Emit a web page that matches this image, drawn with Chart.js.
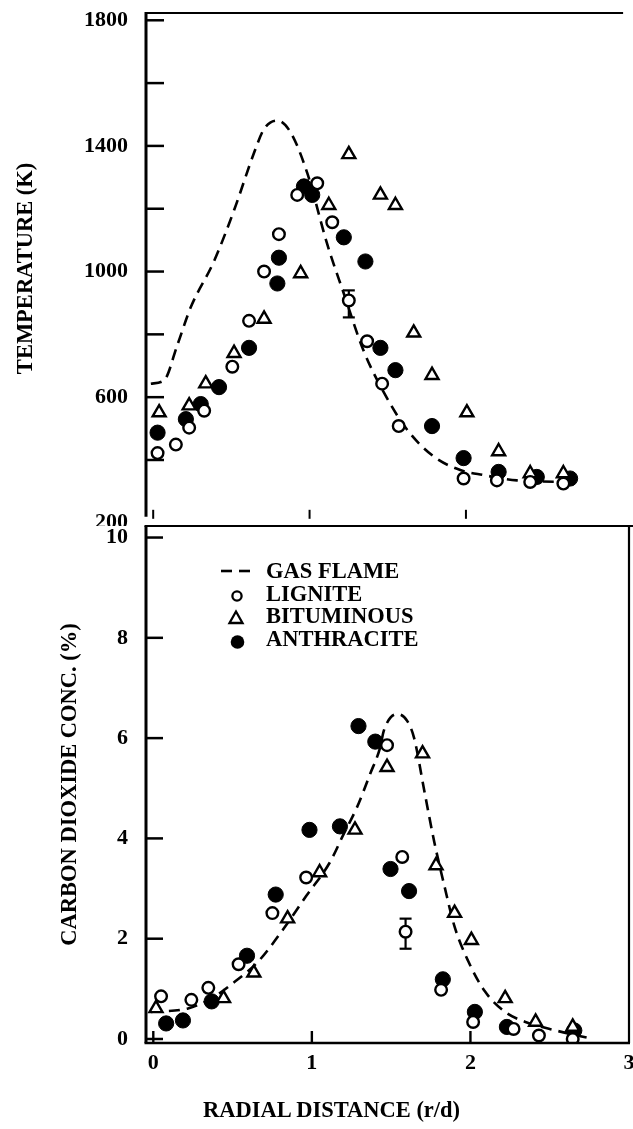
<!DOCTYPE html>
<html>
<head>
<meta charset="utf-8">
<script src="https://cdn.jsdelivr.net/npm/chart.js@4.4.1/dist/chart.umd.min.js"></script>
<style>
  body { margin: 0; background: #fff; }
  #page { position: relative; width: 633px; height: 1129px; overflow: hidden; background: #fff; }
  #topWrap { position: absolute; left: 0; top: 0; width: 633px; height: 526px; overflow: hidden; }
  canvas { position: absolute; left: 0; top: 0; }
  #co2Chart { top: 500px; }
  .lbl { position: absolute; font: bold 22.5px 'Liberation Serif', 'DejaVu Serif', serif; color: #000; white-space: nowrap; line-height: 1; }
  #legend { position: absolute; left: 218px; top: 560px; }
  .row { display: flex; align-items: center; height: 22.7px; }
  .row svg { width: 48px; height: 22px; flex: none; }
  .row span { font: bold 22.5px 'Liberation Serif', 'DejaVu Serif', serif; line-height: 22.7px; }
</style>
</head>
<body>
<div id="page">
  <div id="topWrap"><canvas id="tempChart" width="633" height="536"></canvas></div>
  <canvas id="co2Chart" width="645" height="629"></canvas>
  <div id="legend"></div>
  <div class="lbl" style="left:203px;top:1099px">RADIAL DISTANCE (r/d)</div>
</div>
<script>
// ---- top panel: temperature (K) vs r/d
const gasTempR = [-0.015, 0.07, 0.155, 0.24, 0.389, 0.517, 0.645, 0.709, 0.794, 0.879, 0.985, 1.113, 1.219, 1.347, 1.474, 1.623, 1.794, 1.964, 2.113, 2.326, 2.687];
const gasTemp  = [643, 654, 767, 886, 1033, 1195, 1378, 1454, 1481, 1443, 1314, 1087, 930, 746, 616, 497, 411, 368, 352, 335, 330];

const ligTempR = [0.028, 0.145, 0.23, 0.326, 0.506, 0.613, 0.709, 0.804, 0.921, 1.049, 1.145, 1.251, 1.368, 1.464, 1.57, 1.985, 2.198, 2.411, 2.623];
const ligTemp  = [422, 449, 503, 557, 697, 843, 1000, 1119, 1244, 1281, 1157, 908, 778, 643, 508, 341, 335, 330, 325];

const bitTempR = [0.038, 0.23, 0.336, 0.517, 0.709, 0.943, 1.123, 1.251, 1.453, 1.549, 1.666, 1.783, 2.006, 2.209, 2.411, 2.623];
const bitTemp  = [551, 573, 643, 740, 849, 994, 1211, 1373, 1244, 1211, 805, 670, 551, 427, 357, 357];

const antTempR = [0.028, 0.209, 0.304, 0.421, 0.613, 0.794, 0.804, 0.964, 1.017, 1.219, 1.357, 1.453, 1.549, 1.783, 1.985, 2.209, 2.453, 2.666];
const antTemp  = [487, 530, 578, 632, 757, 962, 1044, 1271, 1244, 1109, 1032, 757, 686, 508, 406, 362, 346, 341];

// error bar on the lignite temperature point
const ligTempErrR = [1.251];
const ligTempErrLo = [854];
const ligTempErrHi = [940];

const tempTicks = [200, 400, 600, 800, 1000, 1200, 1400, 1600, 1800];
const tempLabels = [200, 600, 1000, 1400, 1800];

// ---- bottom panel: CO2 (%) vs r/d
const gasCo2R = [-0.015, 0.219, 0.368, 0.517, 0.666, 0.815, 0.964, 1.113, 1.198, 1.283, 1.368, 1.432, 1.453, 1.538, 1.602, 1.645, 1.709, 1.772, 1.836, 1.9, 1.985, 2.091, 2.219, 2.347, 2.538, 2.772];
const gasCo2  = [0.54, 0.61, 0.81, 1.15, 1.56, 2.17, 2.85, 3.52, 4.07, 4.61, 5.29, 5.83, 6.14, 6.48, 6.34, 6.0, 4.95, 3.93, 3.05, 2.24, 1.56, 0.95, 0.54, 0.34, 0.17, 0.0];

const ligCo2R = [0.049, 0.24, 0.347, 0.538, 0.751, 0.964, 1.474, 1.57, 1.591, 1.815, 2.017, 2.272, 2.432, 2.645];
const ligCo2  = [0.85, 0.78, 1.02, 1.49, 2.51, 3.22, 5.86, 3.63, 2.14, 0.98, 0.34, 0.2, 0.07, 0.0];

const bitCo2R = [0.017, 0.443, 0.634, 0.847, 1.049, 1.272, 1.474, 1.698, 1.783, 1.9, 2.006, 2.219, 2.411, 2.645];
const bitCo2  = [0.61, 0.81, 1.32, 2.4, 3.32, 4.17, 5.42, 5.69, 3.46, 2.51, 1.97, 0.81, 0.34, 0.24];

const antCo2R = [0.081, 0.187, 0.368, 0.591, 0.772, 0.985, 1.177, 1.294, 1.4, 1.496, 1.613, 1.826, 2.028, 2.23, 2.655];
const antCo2  = [0.31, 0.37, 0.75, 1.66, 2.88, 4.17, 4.24, 6.24, 5.93, 3.39, 2.95, 1.19, 0.54, 0.24, 0.17];

const ligCo2ErrR = [1.591];
const ligCo2ErrLo = [1.8];
const ligCo2ErrHi = [2.4];

const co2Ticks = [0, 2, 4, 6, 8, 10];

// r/d axis
const radialTicks = [0, 1, 2, 3];
const topXTicks = [0, 1, 2];
const bottomXTicks = [0, 1, 2];

const legendLabels = ['GAS FLAME', 'LIGNITE', 'BITUMINOUS', 'ANTHRACITE'];

const FONT = "'Liberation Serif', 'DejaVu Serif', serif";
Chart.defaults.font.family = FONT;
Chart.defaults.color = '#000';

function pts(xs, ys) {
    return xs.map((x, i) => ({ x: x, y: ys[i] }));
}

function makeSets(gR, g, lR, l, bR, b, aR, a) {
    return [
        { label: 'LIGNITE', data: pts(lR, l), pointStyle: 'circle', pointRadius: 5.8,
          backgroundColor: '#fff', borderColor: '#000', borderWidth: 2.4 },
        { label: 'BITUMINOUS', data: pts(bR, b), pointStyle: 'triangle', pointRadius: 7.5,
          backgroundColor: '#fff', borderColor: '#000', borderWidth: 2.4 },
        { label: 'ANTHRACITE', data: pts(aR, a), pointStyle: 'circle', pointRadius: 7.6,
          backgroundColor: '#000', borderColor: '#000', borderWidth: 1 },
        { label: 'GAS FLAME', data: pts(gR, g), showLine: true, pointRadius: 0,
          borderColor: '#000', borderWidth: 2.6, borderDash: [11, 7],
          cubicInterpolationMode: 'monotone', fill: false }
    ];
}

function useTicks(values) {
    return scale => { scale.ticks = values.map(v => ({ value: v })); };
}

function line(ctx, x1, y1, x2, y2, w) {
    ctx.lineWidth = w;
    ctx.beginPath();
    ctx.moveTo(x1, y1);
    ctx.lineTo(x2, y2);
    ctx.stroke();
}

function errorBars(chart, xs, lo, hi) {
    const { ctx, scales } = chart;
    ctx.save();
    ctx.strokeStyle = '#000';
    xs.forEach((v, i) => {
        const x = scales.x.getPixelForValue(v);
        const y1 = scales.y.getPixelForValue(lo[i]);
        const y2 = scales.y.getPixelForValue(hi[i]);
        line(ctx, x, y1, x, y2, 2.2);
        line(ctx, x - 6, y1, x + 6, y1, 2.2);
        line(ctx, x - 6, y2, x + 6, y2, 2.2);
    });
    ctx.restore();
}

const tickFont = { size: 22, weight: 'bold', lineHeight: 1.2 };
const titleFont = { size: 22.5, weight: 'bold' };
// grid hidden; tickLength only sets the gap between labels and axis
const yGrid = { display: false, drawTicks: true, tickLength: 18 };

// top chart: left axis and top rule only, ticks drawn inward
const topFrame = {
    id: 'topFrame',
    beforeDatasetsDraw(chart) {
        errorBars(chart, ligTempErrR, ligTempErrLo, ligTempErrHi);
    },
    afterDraw(chart) {
        const { ctx, chartArea: a, scales } = chart;
        ctx.save();
        ctx.strokeStyle = '#000';
        line(ctx, a.left, a.top - 1, a.right, a.top - 1, 2.2);
        line(ctx, a.left, a.top - 2, a.left, a.bottom - 6, 3);
        scales.y.ticks.forEach(t => {
            if (t.value <= scales.y.min) return;
            const y = scales.y.getPixelForValue(t.value);
            line(ctx, a.left, y, a.left + 18, y, 2.5);
        });
        topXTicks.forEach(v => {
            const x = scales.x.getPixelForValue(v);
            line(ctx, x, a.bottom - 4, x, a.bottom - 13, 2);
        });
        ctx.restore();
    }
};

const bottomFrame = {
    id: 'bottomFrame',
    beforeDatasetsDraw(chart) {
        errorBars(chart, ligCo2ErrR, ligCo2ErrLo, ligCo2ErrHi);
    },
    afterDraw(chart) {
        const { ctx, chartArea: a, scales } = chart;
        ctx.save();
        ctx.strokeStyle = '#000';
        line(ctx, a.left - 1.5, a.top, a.right + 6, a.top, 2.2);
        line(ctx, a.left, a.top, a.left, a.bottom, 3);
        line(ctx, a.right, a.top, a.right, a.bottom, 2.2);
        line(ctx, a.left - 1.5, a.bottom, a.right + 1, a.bottom, 2.6);
        scales.y.ticks.forEach(t => {
            const y = scales.y.getPixelForValue(t.value);
            line(ctx, a.left, y, a.left + 17, y, 2.5);
        });
        bottomXTicks.forEach(v => {
            const x = scales.x.getPixelForValue(v);
            line(ctx, x, a.bottom, x, a.bottom - 12, 2.4);
        });
        ctx.restore();
    }
};

const commonPlugins = { legend: { display: false }, tooltip: { enabled: false } };

new Chart(document.getElementById('tempChart'), {
    type: 'scatter',
    data: { datasets: makeSets(gasTempR, gasTemp, ligTempR, ligTemp, bitTempR, bitTemp, antTempR, antTemp) },
    options: {
        responsive: false,
        animation: false,
        layout: { padding: { top: 14, right: 0, bottom: 0, left: 0 } },
        plugins: commonPlugins,
        scales: {
            x: { type: 'linear', display: false, min: -0.046, max: 3.005 },
            y: {
                type: 'linear', min: 200, max: 1820,
                grid: yGrid,
                border: { display: false },
                afterFit(scale) { scale.width = 146; },
                afterBuildTicks: useTicks(tempTicks),
                ticks: {
                    autoSkip: false, padding: 0, font: tickFont,
                    callback: v => (tempLabels.includes(v) ? String(v) : '')
                },
                title: { display: true, text: 'TEMPERATURE (K)', font: titleFont, padding: { top: 13, bottom: 0 } }
            }
        }
    },
    plugins: [topFrame]
});

new Chart(document.getElementById('co2Chart'), {
    type: 'scatter',
    data: { datasets: makeSets(gasCo2R, gasCo2, ligCo2R, ligCo2, bitCo2R, bitCo2, antCo2R, antCo2) },
    options: {
        responsive: false,
        animation: false,
        layout: { padding: { top: 26, right: 16, bottom: 0, left: 0 } },
        plugins: commonPlugins,
        scales: {
            x: {
                type: 'linear', min: -0.046, max: 3,
                grid: { display: false, drawTicks: true, tickLength: 7 },
                border: { display: false },
                afterFit(scale) { scale.height = 86; },
                afterBuildTicks: useTicks(radialTicks),
                ticks: { autoSkip: false, padding: 0, font: tickFont, maxRotation: 0 }
            },
            y: {
                type: 'linear', min: -0.08, max: 10.23,
                grid: yGrid,
                border: { display: false },
                afterFit(scale) { scale.width = 146; },
                afterBuildTicks: useTicks(co2Ticks),
                ticks: { autoSkip: false, padding: 0, font: tickFont },
                title: { display: true, text: 'CARBON DIOXIDE CONC. (%)', font: titleFont, padding: { top: 57, bottom: 0 } }
            }
        }
    },
    plugins: [bottomFrame]
});

// legend inside the lower panel
const legendSymbols = [
    '<line x1="3" y1="11" x2="14" y2="11" stroke="#000" stroke-width="2.6"/><line x1="21" y1="11" x2="32" y2="11" stroke="#000" stroke-width="2.6"/>',
    '<circle cx="19" cy="13" r="4.6" fill="#fff" stroke="#000" stroke-width="2.3"/>',
    '<polygon points="18,5.5 11.5,17 24.5,17" fill="#fff" stroke="#000" stroke-width="2.3"/>',
    '<circle cx="19.5" cy="14" r="6.8" fill="#000"/>'
];
const legendEl = document.getElementById('legend');
legendLabels.forEach((text, i) => {
    const row = document.createElement('div');
    row.className = 'row';
    row.innerHTML = `<svg viewBox="0 0 48 22">${legendSymbols[i]}</svg><span>${text}</span>`;
    legendEl.appendChild(row);
});
</script>
</body>
</html>
